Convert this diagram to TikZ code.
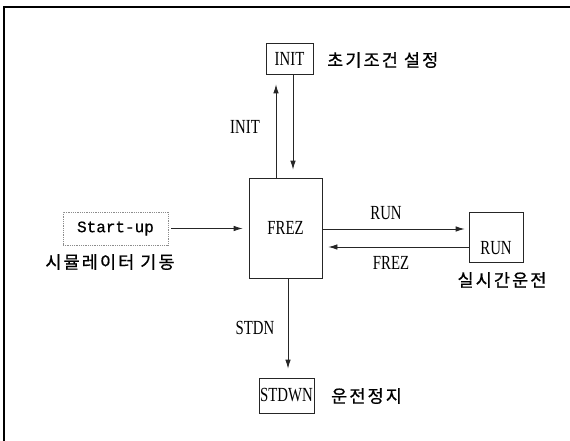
\documentclass[tikz,border=0pt]{standalone}
\usepackage{fontspec}
\newfontfamily\hangul[FakeBold=0.7, LetterSpace=12]{Noto Sans CJK KR}
\newfontfamily\labfont[FakeStretch=0.74]{Liberation Serif}
\newfontfamily\monofont[FakeBold=0.6]{Liberation Mono}
\usetikzlibrary{arrows.meta,positioning}

\begin{document}
\begin{tikzpicture}[x=1pt, y=-1pt,
  mode/.style={draw=black!85, line width=0.8pt, inner sep=0pt,
    font=\labfont\fontsize{20}{20}\selectfont},
  startbox/.style={draw=black!45, densely dotted, line width=0.8pt, inner sep=0pt,
    font=\monofont\fontsize{16}{16}\selectfont},
  kor/.style={font=\hangul\fontsize{17.5}{18}\selectfont, inner sep=0pt},
  tag/.style={font=\labfont\fontsize{20}{20}\selectfont, inner sep=0pt},
  flow/.style={-{Latex[length=9pt, width=5.5pt]}, line width=0.8pt, draw=black!85}
]
\useasboundingbox (0,0) rectangle (570,441);
% outer frame (left and top only)
\draw[line width=1.4pt] (4,441) -- (4,7) -- (570,7);

\node[mode, minimum width=47pt, minimum height=31pt] (init) at (289.5,58.5) {INIT};
\node[kor, anchor=west] (initlbl) at (327,60) {초기조건 설정};
\node[mode, minimum width=73pt, minimum height=100pt] (frez) at (285.5,228) {FREZ};
\node[startbox, minimum width=105pt, minimum height=33pt] (start) at (115.5,228.5) {Start-up};
\node[kor] (startlbl) at (110,262) {시뮬레이터 기동};
\node[mode, minimum width=54pt, minimum height=50pt] (run) at (496,237) {};
\node[tag] (runtxt) at (496,248) {RUN};
\node[kor] (runlbl) at (502,280) {실시간운전};
\node[mode, minimum width=55pt, minimum height=35pt] (stdwn) at (286.5,395.5) {STDWN};
\node[kor, anchor=west] (stdwnlbl) at (331,396) {운전정지};

\draw[flow, shorten <=3pt, shorten >=6pt] (start.east) -- (frez.west |- start.east);
\draw[flow, shorten >=10pt] ([xshift=-9.5pt]frez.north) -- ([xshift=-9.5pt]frez.north |- init.south);
\draw[flow, shorten >=8pt] ([xshift=3.5pt]init.south) -- ([xshift=3.5pt]init.south |- frez.north);
\draw[flow, shorten >=4pt] ([yshift=-1pt]frez.east) -- ([yshift=-1pt]frez.east -| run.west);
\draw[flow, shorten >=6pt] ([yshift=-10pt]run.west) -- ([yshift=-10pt]run.west -| frez.east);
\draw[flow, shorten >=9pt] ([xshift=2.5pt]frez.south) -- ([xshift=2.5pt]frez.south |- stdwn.north);

\node[tag] (initarr) at (245,127) {INIT};
\node[tag] (runarr) at (386,213) {RUN};
\node[tag] (frezarr) at (391,263) {FREZ};
\node[tag] (stdnarr) at (255,328) {STDN};
\end{tikzpicture}
\end{document}
